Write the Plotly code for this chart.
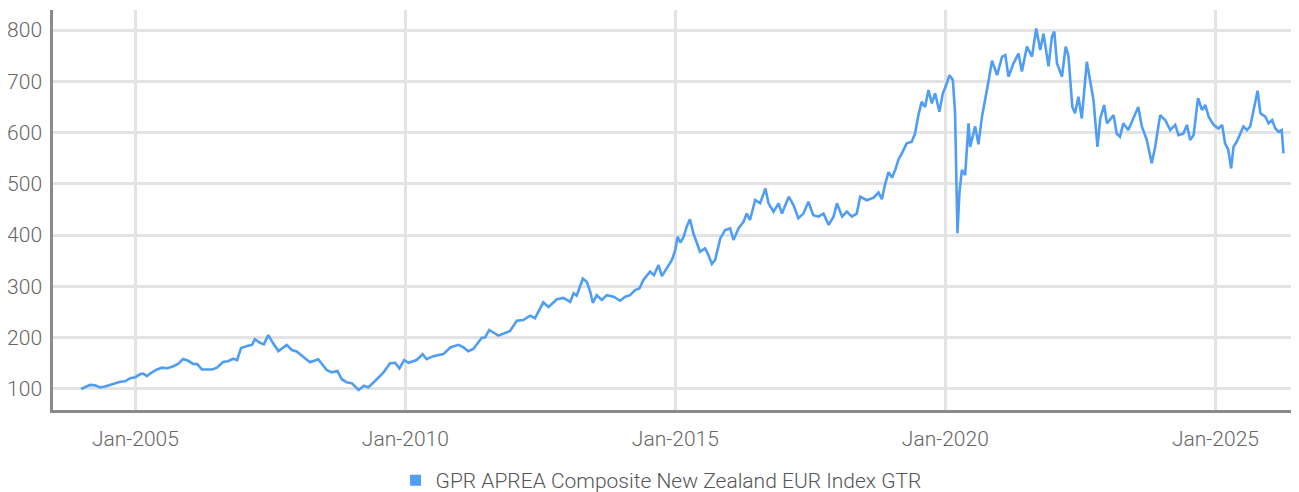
import plotly.graph_objects as go

SERIES_NAME = "GPR APREA Composite New Zealand EUR Index GTR"

dates = [
    "2003-12-31", "2004-03-01", "2004-04-04", "2004-05-07", "2004-06-10", "2004-07-14", "2004-09-20",
    "2004-10-24", "2004-11-27", "2005-01-01", "2005-02-04", "2005-02-24", "2005-03-20", "2005-04-24",
    "2005-05-27", "2005-07-01", "2005-08-04", "2005-09-07", "2005-10-17", "2005-11-20", "2005-12-24",
    "2006-01-27", "2006-02-24", "2006-03-27", "2006-05-01", "2006-06-04", "2006-07-07", "2006-08-17",
    "2006-09-20", "2006-10-24", "2006-11-20", "2006-12-17", "2007-01-27", "2007-03-01", "2007-03-20",
    "2007-04-24", "2007-05-20", "2007-06-19", "2007-07-22", "2007-08-26", "2007-10-22", "2007-11-25",
    "2007-12-28", "2008-02-12", "2008-03-27", "2008-05-22", "2008-07-18", "2008-08-21", "2008-09-29",
    "2008-10-28", "2008-12-01", "2009-01-05", "2009-02-19", "2009-03-27", "2009-04-25", "2009-06-10",
    "2009-08-05", "2009-09-20", "2009-10-24", "2009-11-22", "2009-12-24", "2010-01-22", "2010-03-18",
    "2010-04-28", "2010-05-25", "2010-07-09", "2010-09-15", "2010-11-01", "2010-12-26", "2011-01-29",
    "2011-03-03", "2011-04-06", "2011-06-02", "2011-06-24", "2011-07-22", "2011-09-22", "2011-12-10",
    "2012-01-25", "2012-03-09", "2012-04-24", "2012-05-27", "2012-07-22", "2012-08-26", "2012-10-22",
    "2012-12-05", "2013-01-20", "2013-02-12", "2013-03-05", "2013-04-15", "2013-05-12", "2013-06-04",
    "2013-06-22", "2013-07-18", "2013-08-21", "2013-09-25", "2013-11-09", "2013-12-24", "2014-01-27",
    "2014-03-01", "2014-04-04", "2014-05-03", "2014-05-30", "2014-07-14", "2014-08-10", "2014-09-09",
    "2014-10-02", "2014-11-05", "2014-12-09", "2015-01-01", "2015-01-16", "2015-02-04", "2015-02-26",
    "2015-03-19", "2015-04-10", "2015-05-03", "2015-05-26", "2015-06-17", "2015-07-21", "2015-08-13",
    "2015-09-05", "2015-09-27", "2015-11-01", "2015-12-04", "2016-01-07", "2016-01-29", "2016-03-03",
    "2016-04-06", "2016-04-28", "2016-05-20", "2016-06-24", "2016-07-27", "2016-09-01", "2016-09-22",
    "2016-10-26", "2016-11-29", "2016-12-22", "2017-02-06", "2017-03-09", "2017-04-12", "2017-05-16",
    "2017-06-19", "2017-07-22", "2017-08-26", "2017-09-29", "2017-11-03", "2017-12-06", "2017-12-29",
    "2018-02-02", "2018-03-06", "2018-04-09", "2018-05-12", "2018-06-04", "2018-07-19", "2018-09-03",
    "2018-10-06", "2018-10-29", "2018-11-20", "2018-12-13", "2019-01-05", "2019-01-27", "2019-02-19",
    "2019-03-12", "2019-04-15", "2019-05-19", "2019-06-10", "2019-07-03", "2019-07-25", "2019-08-17",
    "2019-09-09", "2019-10-02", "2019-10-24", "2019-11-22", "2019-12-15", "2020-01-07", "2020-01-29",
    "2020-02-21", "2020-03-07", "2020-03-23", "2020-04-06", "2020-04-22", "2020-05-14", "2020-06-06",
    "2020-06-17", "2020-07-21", "2020-08-12", "2020-09-05", "2020-09-27", "2020-10-19", "2020-11-12",
    "2020-12-16", "2021-01-19", "2021-02-10", "2021-03-03", "2021-04-06", "2021-05-10", "2021-06-02",
    "2021-07-06", "2021-08-09", "2021-09-07", "2021-10-04", "2021-10-26", "2021-11-29", "2021-12-22",
    "2022-01-07", "2022-01-25", "2022-02-28", "2022-03-25", "2022-04-12", "2022-05-09", "2022-05-27",
    "2022-06-19", "2022-07-12", "2022-08-15", "2022-09-07", "2022-09-29", "2022-10-26", "2022-11-14",
    "2022-12-10", "2022-12-29", "2023-02-12", "2023-03-05", "2023-03-27", "2023-04-19", "2023-05-22",
    "2023-06-26", "2023-07-29", "2023-08-22", "2023-09-25", "2023-10-28", "2023-11-20", "2023-12-24",
    "2024-01-27", "2024-03-01", "2024-04-04", "2024-04-26", "2024-05-29", "2024-06-22", "2024-07-14",
    "2024-08-06", "2024-09-05", "2024-10-02", "2024-10-24", "2024-11-16", "2024-12-19", "2025-01-22",
    "2025-02-15", "2025-03-07", "2025-03-29", "2025-04-17", "2025-05-03", "2025-05-25", "2025-06-17",
    "2025-07-09", "2025-08-02", "2025-08-24", "2025-09-16", "2025-10-13", "2025-11-01", "2025-12-04",
    "2025-12-26", "2026-01-19", "2026-02-10", "2026-03-03", "2026-03-25", "2026-04-06",
]

values = [
    100, 108, 107, 103, 105, 108, 114,
    115, 121, 123, 129, 130, 125, 132.5,
    138, 141.5, 140.5, 143.5, 149, 158.5, 155,
    149, 148.5, 138, 137.5, 138, 141.5, 152.6,
    154, 159, 156.5, 180, 184, 186, 197,
    190, 187, 205, 189, 174, 186, 176,
    173, 163, 152, 158, 137, 132.5, 135,
    119, 113, 111, 98, 106.5, 103, 115.6,
    132, 150, 151, 140, 156.5, 151, 156.5,
    168, 158, 164, 168, 181, 186, 181,
    173.5, 178, 200, 200.5, 215, 204, 213,
    233, 234.5, 243, 238, 269, 260, 275,
    277.5, 270, 286.5, 282, 315, 309, 290,
    268, 283, 273.5, 283, 280, 272, 280,
    283, 293, 296, 312.5, 328.7, 322, 341.7,
    320, 335, 351.5, 371, 397, 385.6, 397,
    416.5, 431, 403.6, 384, 367.7, 374, 361,
    343.7, 351.5, 393.6, 410, 413, 390.5, 413,
    426, 442, 429.5, 468.5, 462, 491, 462,
    445.7, 462, 442, 475, 459, 433, 442,
    465, 439, 436, 442, 420, 436, 462,
    436, 445.7, 436, 442, 475, 468, 473,
    483, 470, 500, 523, 512, 527, 548,
    559, 579, 582, 598, 634, 660, 650,
    683, 657, 676.5, 640.6, 676.5, 692.7, 712,
    702.5, 637.5, 403.6, 485, 527, 517, 618,
    572, 612, 577, 631, 663.5, 700, 740,
    712, 748, 751, 709, 735, 754, 719,
    767.6, 748, 803, 761, 793, 729, 787,
    797, 735, 709, 767.6, 751, 650, 637.5,
    670, 627.5, 738, 696, 663.5, 572, 627.5,
    653.7, 618, 634, 598, 592, 618, 605,
    627.5, 650, 612, 585.5, 540, 572, 634,
    624.5, 605, 615, 595, 598, 615, 585.5,
    595, 667, 644, 654, 631, 615, 608,
    615, 579, 566, 530, 572, 582, 598,
    612, 605, 612, 644, 681.6, 637.5, 631,
    618, 624.5, 608, 601.6, 605, 559.4,
]

x_tickvals = ["2005-01-01", "2010-01-01", "2015-01-01", "2020-01-01", "2025-01-01"]
x_ticktext = ["Jan-2005", "Jan-2010", "Jan-2015", "Jan-2020", "Jan-2025"]
y_tickvals = [100, 200, 300, 400, 500, 600, 700, 800]

LINE_COLOR = "#4f9df5"
FONT = dict(family="Roboto, 'Liberation Sans Narrow', sans-serif", size=21, color="#666666", weight=300)

fig = go.Figure()
fig.add_trace(go.Scatter(
    x=dates, y=values, mode="lines",
    line=dict(color=LINE_COLOR, width=2.6),
    showlegend=False, hoverinfo="x+y",
))
fig.add_trace(go.Scatter(
    x=[None], y=[None], mode="markers", name=SERIES_NAME,
    marker=dict(symbol="square", size=11, color=LINE_COLOR),
    showlegend=True,
))

# the page body adds an 8px offset, so margins compensate for it
fig.update_layout(
    width=1299, height=492,
    margin=dict(l=45, r=8, t=2, b=90, autoexpand=False),
    paper_bgcolor="white", plot_bgcolor="white",
    font=FONT,
    legend=dict(orientation="h", x=0.488, xanchor="center", y=-0.125, yanchor="top",
                font=dict(size=21, color="#555555"), itemwidth=30),
    xaxis=dict(
        type="date", range=["2003-06-24", "2026-07-20"],
        tickvals=x_tickvals, ticktext=x_ticktext,
        showgrid=True, gridcolor="#e3e3e3", gridwidth=2.5,
        showline=True, linecolor="#8a8a8a", linewidth=2.5,
        ticks="outside", ticklen=8, tickcolor="rgba(0,0,0,0)",
        zeroline=False, automargin=False,
    ),
    yaxis=dict(
        range=[59, 839], tickvals=y_tickvals,
        showgrid=True, gridcolor="#e3e3e3", gridwidth=2.5,
        showline=True, linecolor="#8a8a8a", linewidth=2.5,
        ticks="outside", ticklen=4, tickcolor="rgba(0,0,0,0)",
        zeroline=False, automargin=False,
    ),
)

fig.write_html("out.html")
